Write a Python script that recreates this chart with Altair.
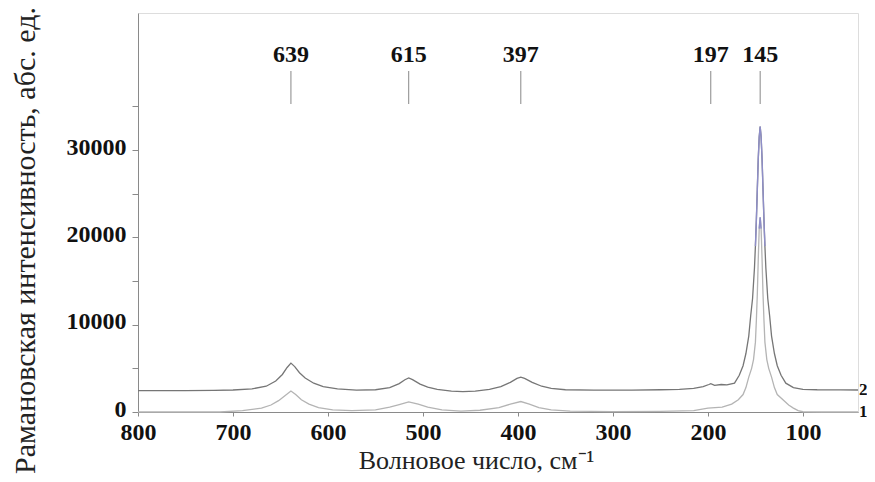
import altair as alt
import pandas as pd

# ---- data ----
wn_curve2 = [800, 750, 720, 700, 680, 665, 655, 648, 643, 639, 635, 630, 624, 615, 605,
             590, 570, 550, 535, 525, 519, 515, 511, 503, 495, 485, 470, 458, 445, 430,
             418, 408, 401, 397, 393, 385, 375, 365, 350, 320, 280, 250, 230, 215, 205,
             199, 197, 193, 186, 180, 172, 167, 163, 160, 157, 155, 153, 151, 150, 149,
             148, 147, 146, 145, 144, 143, 142, 141, 140, 139, 137, 135, 133, 130, 127,
             123, 118, 110, 100, 85, 60, 42]
int_curve2 = [2450, 2450, 2480, 2520, 2650, 2950, 3550, 4300, 5100, 5600, 5200, 4500, 3900, 3300, 2900,
              2650, 2500, 2550, 2800, 3250, 3700, 3900, 3700, 3200, 2850, 2600, 2400, 2330, 2400, 2600,
              2900, 3400, 3850, 4000, 3850, 3400, 2950, 2700, 2550, 2500, 2500, 2550, 2600, 2700, 2900,
              3150, 3250, 3050, 3150, 3100, 3300, 4200, 5300, 6700, 8700, 11000, 13000, 16500, 19000, 22000,
              25500, 29000, 31500, 32700, 31500, 29000, 25500, 22000, 19000, 16500, 13000, 11000, 8700, 6700, 5300,
              4200, 3300, 2800, 2600, 2550, 2530, 2520]

wn_curve1 = [800, 714, 690, 670, 660, 652, 645, 639, 634, 628, 620, 610, 595, 575, 550,
             535, 525, 515, 505, 495, 480, 460, 440, 420, 408, 397, 388, 378, 365, 345,
             300, 250, 215, 200, 185, 175, 168, 163, 160, 157, 154, 152, 150, 149, 148,
             147, 146, 145, 144, 143, 142, 141, 140, 138, 136, 133, 130, 127, 121, 115,
             110, 105, 100, 80, 42]
int_curve1 = [0, 0, 150, 450, 800, 1300, 1900, 2400, 2000, 1400, 900, 500, 250, 150, 250,
              550, 850, 1150, 900, 550, 250, 100, 200, 500, 900, 1200, 900, 500, 250, 100,
              50, 80, 150, 450, 550, 900, 1400, 2000, 2800, 4000, 5000, 6000, 8000, 10500, 13500,
              17500, 21000, 22300, 21000, 17500, 13500, 10500, 8000, 6000, 5000, 4000, 2800, 2000, 1400, 800,
              450, 150, 30, 0, 0]

peak_pos = [639, 515, 397, 197, 145]
peak_labels = ["639", "615", "397", "197", "145"]

curve_names = ["1", "2"]

x_ticks = [800, 700, 600, 500, 400, 300, 200, 100]
y_ticks = [0, 5000, 10000, 15000, 20000, 25000, 30000, 35000]

# ---- tables ----
df = pd.concat([
    pd.DataFrame({"wn": wn_curve1, "I": int_curve1, "curve": "1"}),
    pd.DataFrame({"wn": wn_curve2, "I": int_curve2, "curve": "2"}),
], ignore_index=True)
peaks = pd.DataFrame({"wn": peak_pos, "label": peak_labels})
ends = pd.DataFrame({
    "wn": [wn_curve1[-1], wn_curve2[-1]],
    "I": [int_curve1[-1], int_curve2[-1]],
    "curve": curve_names,
})

SERIF = "Liberation Serif"
GRAY = "#8a8a8a"

xscale = alt.Scale(domain=[42, 800], reverse=True, nice=False, zero=False)
yscale = alt.Scale(domain=[0, 45700], nice=False)

xaxis = alt.Axis(values=x_ticks, title="Волновое число, см⁻¹", grid=False, labelFlush=False,
                 labelFont=SERIF, labelFontSize=24, labelFontWeight="bold", labelColor="#111",
                 labelPadding=4, tickSize=4, tickColor=GRAY, domainColor=GRAY,
                 titleFont=SERIF, titleFontSize=26, titleFontWeight="normal", titleColor="#222",
                 titleX=338, titleY=56, titleAlign="center", titleBaseline="alphabetic")
yaxis = alt.Axis(values=y_ticks, format="d", labelFlush=False, labelOffset=-3,
                 labelExpr="datum.value % 10000 === 0 ? datum.label : ''",
                 title="Рамановская интенсивность, абс. ед.", grid=False,
                 labelFont=SERIF, labelFontSize=24, labelFontWeight="bold", labelColor="#111",
                 labelPadding=6, tickSize=6, tickColor=GRAY, domainColor=GRAY,
                 titleFont=SERIF, titleFontSize=30, titleFontWeight="normal", titleColor="#222",
                 titleAngle=-90, titleX=-113, titleY=227, titleAlign="center", titleBaseline="middle")

color_scale = alt.Scale(domain=curve_names, range=["#b4b4b4", "#767676"])

base = alt.Chart(df).transform_window(idx="row_number()", groupby=["curve"])

lines = base.mark_line(strokeWidth=1.3).encode(
    x=alt.X("wn:Q", scale=xscale, axis=xaxis),
    y=alt.Y("I:Q", scale=yscale, axis=yaxis),
    color=alt.Color("curve:N", scale=color_scale, legend=None),
    order=alt.Order("idx:Q"),
)

# bluish tint at the top of the strong 145 band
tips = base.transform_filter("datum.I >= 19000").mark_line(
    strokeWidth=1.4, color="#8e8ec8"
).encode(
    x=alt.X("wn:Q", scale=xscale),
    y=alt.Y("I:Q", scale=yscale),
    detail="curve:N",
    order=alt.Order("idx:Q"),
)

rules = alt.Chart(peaks).mark_rule(color="#888", strokeWidth=1).encode(
    x=alt.X("wn:Q", scale=xscale),
    y=alt.value(58),
    y2=alt.value(91),
)

labels = alt.Chart(peaks).mark_text(font=SERIF, fontSize=24, fontWeight="bold",
                                    color="#111", baseline="middle", align="center").encode(
    x=alt.X("wn:Q", scale=xscale),
    y=alt.value(42),
    text="label:N",
)

end_labels = alt.Chart(ends).mark_text(font=SERIF, fontSize=17, fontWeight="bold",
                                       color="#111", baseline="middle", align="left",
                                       dx=1).encode(
    x=alt.X("wn:Q", scale=xscale),
    y=alt.Y("I:Q", scale=yscale),
    yOffset=alt.YOffset("curve:N", scale=alt.Scale(domain=curve_names, range=[-7, -9])),
    text="curve:N",
)

chart = alt.layer(lines, tips, rules, labels, end_labels).properties(
    width=720, height=399,
    autosize=alt.AutoSizeParams(type="none"),
    padding={"left": 130, "top": 5, "right": 9, "bottom": 62},
).configure_view(stroke="#999", strokeWidth=1).configure(background="white")

chart.save("out.html", embed_options={"renderer": "svg", "actions": False})
